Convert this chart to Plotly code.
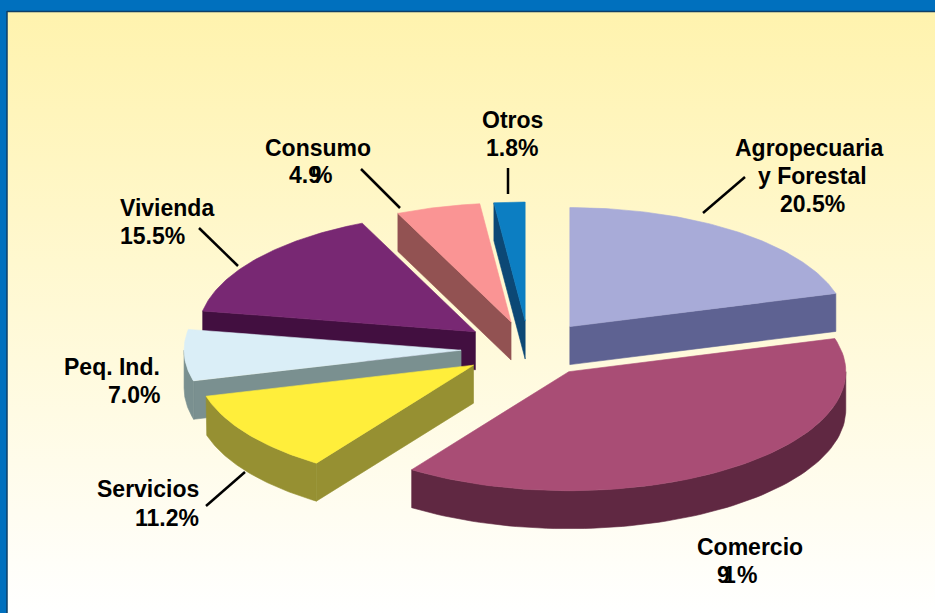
import numpy as np
import plotly.graph_objects as go

# sectores, en el orden de la torta (sentido horario desde las 12)
sectores = ['Agropecuaria y Forestal', 'Comercio', 'Servicios', 'Peq. Ind.', 'Vivienda', 'Consumo', 'Otros']
valores = [20.5, 39.1, 11.2, 7.0, 15.5, 4.9, 1.8]

color_tapa = ['#A8ABD8', '#A94D75', '#FFEE3B', '#DAEEF7', '#782873', '#FA9494', '#0C7EC2']
color_lado = ['#5E6292', '#602842', '#969032', '#7A9090', '#420F40', '#925252', '#0C4875']

# orden de pintado, de atras hacia adelante
orden = [6, 5, 0, 4, 3, 2, 1]

# geometria de la torta en pixeles
cx, cy = 529, 349
rx, ry = 277, 119
alto = 38
expl_x, expl_y = 68, 28

# texto, x, y, ancla
etiquetas = [
    ('Agropecuaria', 809, 148, 'center'),
    ('y Forestal', 812, 176, 'center'),
    ('20.5%', 812, 204, 'center'),
    ('Comercio', 750, 547, 'center'),
    ('9', 723, 575, 'center'),
    ('1', 729, 575, 'center'),
    ('%', 747, 575, 'center'),
    ('Servicios', 201, 489, 'right'),
    ('11.2%', 201, 518, 'right'),
    ('Peq. Ind.', 162, 367, 'right'),
    ('7.0%', 162, 395, 'right'),
    ('Vivienda', 118, 208, 'left'),
    ('15.5%', 118, 236, 'left'),
    ('Consumo', 318, 148, 'center'),
    ('4.9', 305, 175, 'center'),
    ('%', 322, 175, 'center'),
    ('Otros', 512, 120, 'center'),
    ('1.8%', 512, 148, 'center'),
]

# lineas guia x0, y0, x1, y1
guias = [
    (703, 213, 745, 177),
    (361, 169, 400, 208),
    (508, 168, 508, 194),
    (199, 228, 238, 266),
    (206, 506, 245, 472),
]


def arco(x0, y0, a0, a1):
    a = np.radians(np.linspace(a0, a1, 80))
    return x0 + rx * np.sin(a), y0 - ry * np.cos(a)


def poligono(fig, x, y, color, borde=None, ancho=0.6):
    fig.add_trace(go.Scatter(x=list(x), y=list(y), mode='lines', fill='toself', fillcolor=color,
                             line=dict(color=borde or color, width=ancho), hoverinfo='skip', showlegend=False))


total = sum(valores)
fin = np.cumsum(valores) / total * 360
ini = np.concatenate([[0], fin[:-1]])

fig = go.Figure()

# fondo con degradado
fig.add_trace(go.Scatter(x=[7, 935, 935, 7, 7], y=[12, 12, 613, 613, 12], mode='lines', fill='toself',
                         fillgradient=dict(type='vertical', colorscale=[[0, '#FFFFFF'], [0.5, '#FFF9D6'], [1, '#FFF3AE']]),
                         line=dict(width=0), hoverinfo='skip', showlegend=False))

for i in orden:
    a0, a1 = ini[i], fin[i]
    medio = np.radians((a0 + a1) / 2)
    ox = cx + expl_x * np.sin(medio)
    oy = cy - expl_y * np.cos(medio)

    # cara radial visible
    if 180 < a0 < 360:
        xa, ya = arco(ox, oy, a0, a0)
        poligono(fig, [ox, xa[0], xa[0], ox, ox], [oy, ya[0], ya[0] + alto, oy + alto, oy], color_lado[i])
    if 0 < a1 < 180:
        xa, ya = arco(ox, oy, a1, a1)
        poligono(fig, [ox, xa[0], xa[0], ox, ox], [oy, ya[0], ya[0] + alto, oy + alto, oy], color_lado[i])

    # borde exterior, solo la mitad de abajo
    b0, b1 = max(a0, 90), min(a1, 270)
    if b0 < b1:
        xa, ya = arco(ox, oy, b0, b1)
        poligono(fig, np.r_[xa, xa[::-1], xa[0]], np.r_[ya, ya[::-1] + alto, ya[0]], color_lado[i])

    # tapa
    xa, ya = arco(ox, oy, a0, a1)
    poligono(fig, np.r_[ox, xa, ox], np.r_[oy, ya, oy], color_tapa[i])

formas = [
    dict(type='line', x0=7, x1=935, y0=11.5, y1=11.5, line=dict(color='#0E3F66', width=1.5)),
    dict(type='line', x0=7, x1=7, y0=11, y1=613, line=dict(color='#0E3F66', width=1.5)),
]
for x0, y0, x1, y1 in guias:
    formas.append(dict(type='line', x0=x0, y0=y0, x1=x1, y1=y1, line=dict(color='black', width=2.5)))

notas = [dict(x=x, y=y, text=t, showarrow=False, xanchor=anc, yanchor='middle',
              font=dict(family='Liberation Sans', size=23, color='black'))
         for t, x, y, anc in [(e[0], e[1], e[2], e[3]) for e in etiquetas]]
for n in notas:
    n['text'] = '<b>' + n['text'] + '</b>'

fig.update_layout(
    width=935, height=613,
    margin=dict(l=0, r=0, t=0, b=0),
    paper_bgcolor='#0070BE',
    plot_bgcolor='rgba(0,0,0,0)',
    xaxis=dict(range=[0, 935], visible=False, fixedrange=True),
    yaxis=dict(range=[613, 0], visible=False, fixedrange=True),
    shapes=formas,
    annotations=notas,
    showlegend=False,
)

fig.write_html('out.html', config=dict(displayModeBar=False),
               post_script="document.body.style.margin='0';document.body.style.overflow='hidden';")
